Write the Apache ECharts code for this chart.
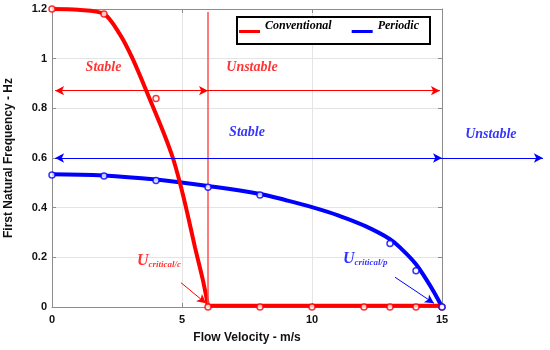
<!DOCTYPE html>
<html><head><meta charset="utf-8">
<script src="https://cdn.jsdelivr.net/npm/echarts@6/dist/echarts.min.js"></script>
<style>html,body{margin:0;padding:0;background:#fff}#c{width:550px;height:350px}</style>
</head><body><div id="c"></div>
<script>
// ---- data ----
const xTickLabels = ['0', '5', '10', '15'];
const yTickLabels = ['0', '0.2', '0.4', '0.6', '0.8', '1', '1.2'];
const seriesNames = ['Conventional', 'Periodic'];

// measured points (open circles)
const convMarkX = [0, 2, 4, 6, 8, 10, 12, 13, 14, 15];
const convMarkY = [1.2, 1.18, 0.84, 0, 0, 0, 0, 0, 0, 0];
const periMarkX = [0, 2, 4, 6, 8, 13, 14, 15];
const periMarkY = [0.532, 0.528, 0.509, 0.482, 0.451, 0.256, 0.146, 0];

// fitted curves (thick lines)
const convFitX = [0, 1, 2, 2.6, 3.1, 3.75, 4.3, 4.65, 4.92, 5.2, 5.5, 5.8, 6, 15];
const convFitY = [1.2, 1.197, 1.18, 1.10, 1.0, 0.84, 0.7, 0.6, 0.5, 0.38, 0.24, 0.11, 0.005, 0.005];
const periFitX = [0, 2, 4, 6, 8, 9, 10, 11, 12, 13, 13.5, 14, 14.4, 14.7, 15];
const periFitY = [0.535, 0.53, 0.513, 0.487, 0.455, 0.430, 0.402, 0.369, 0.328, 0.273, 0.228, 0.172, 0.11, 0.058, 0];

// critical velocities and stability-region arrows (data units)
const criticalConv = 6;
const criticalPeri = 15;
const convArrowY = 0.871;
const periArrowY = 0.6;
const arrowLeftX = 0.12;
const convArrowRightX = 14.92;
const periArrowOuterX = 18.88;
const vlineTopY = 1.188;
const critConvArrow = [[4.96, 0.098], [5.92, 0.015]];
const critPeriArrow = [[13.19, 0.12], [14.69, 0.015]];

// annotation texts
const annText = ['Stable', 'Unstable', 'Stable', 'Unstable', '{u|U}{s|critical/c}', '{u|U}{s|critical/p}'];
const annX = [1.98, 7.69, 7.5, 16.88, 3.27, 11.19];
const annY = [0.965, 0.965, 0.703, 0.697, 0.185, 0.193];
const annKind = ['c', 'c', 'p', 'p', 'c', 'p'];

// ---- build ----
const RED = '#ff0000', BLUE = '#0000ff';
const zip = (xs, ys) => xs.map((x, i) => [x, ys[i]]);
const convCurve = zip(convFitX, convFitY).filter(p => p[0] <= criticalConv);
const convFlat = zip(convFitX, convFitY).filter(p => p[0] >= criticalConv);

const axisGray = '#8c8c8c';
const tickFont = {fontFamily: 'Liberation Sans', fontWeight: 'bold', fontSize: 11, color: '#111'};
const serifBI = {fontFamily: 'Liberation Serif', fontWeight: 'bold', fontStyle: 'italic'};

function axisBase(extra) {
  return Object.assign({
    type: 'value',
    axisLine: {show: true, onZero: false, lineStyle: {color: axisGray, width: 1}},
    axisTick: {show: true, inside: true, length: 4, lineStyle: {color: axisGray}},
    splitLine: {show: false},
    axisLabel: {show: false}
  }, extra);
}

const annData = annText.map((t, i) => {
  const col = annKind[i] === 'c' ? RED : BLUE;
  const rich = t.indexOf('{u|') === 0;
  return {
    value: [annX[i], annY[i]],
    label: rich ? {
      show: true, position: 'right', distance: 0, formatter: t,
      rich: {
        u: Object.assign({fontSize: 16, color: col}, serifBI),
        s: Object.assign({fontSize: 9, color: col, verticalAlign: 'bottom'}, serifBI)
      }
    } : {
      show: true, position: 'inside', formatter: t,
      color: col, fontSize: 14, ...serifBI
    }
  };
});

function arrow(p0, p1, col, s0, s1, w) {
  return [
    {coord: p0, symbol: s0, lineStyle: {color: col, width: w || 1, type: 'solid'}},
    {coord: p1, symbol: s1}
  ];
}

const chart = echarts.init(document.getElementById('c'), null, {renderer: 'canvas'});
chart.setOption({
  animation: false,
  backgroundColor: '#fff',
  grid: [
    {left: 52, right: 108, top: 9, bottom: 43, outerBoundsMode: 'none', containLabel: false},
    {left: 52, width: 507, top: 9, bottom: 43, outerBoundsMode: 'none', containLabel: false}
  ],
  legend: {
    data: seriesNames,
    left: 237, top: 17,
    orient: 'horizontal',
    itemWidth: 21, itemHeight: 14, itemGap: 20,
    icon: 'path://M0,0 M0,11 L21,11 L21,14 L0,14 Z',
    padding: [2, 11, 11, 2],
    borderColor: '#000', borderWidth: 2,
    backgroundColor: '#fff',
    textStyle: Object.assign({fontSize: 12, color: '#000'}, serifBI),
    selectedMode: false
  },
  xAxis: [
    axisBase({
      gridIndex: 0, position: 'bottom', min: 0, max: 15, interval: 5,
      name: 'Flow Velocity - m/s', nameLocation: 'middle', nameGap: 25,
      nameTextStyle: {fontFamily: 'Liberation Sans', fontWeight: 'bold', fontSize: 12, color: '#111'},
      axisLabel: Object.assign({show: true, margin: 7,
        formatter: v => xTickLabels[Math.round(v / 5)]}, tickFont),
      splitLine: {show: true, lineStyle: {color: '#e4e4e4', width: 1}}
    }),
    axisBase({gridIndex: 0, position: 'top', min: 0, max: 15, interval: 5}),
    {type: 'value', gridIndex: 1, min: 0, max: 19.5, show: false}
  ],
  yAxis: [
    axisBase({
      gridIndex: 0, position: 'left', min: 0, max: 1.2, interval: 0.2,
      name: 'First Natural Frequency - Hz', nameLocation: 'middle', nameGap: 37,
      nameTextStyle: {fontFamily: 'Liberation Sans', fontWeight: 'bold', fontSize: 12, color: '#111'},
      axisLabel: Object.assign({show: true, margin: 5,
        formatter: v => yTickLabels[Math.round(v / 0.2)]}, tickFont),
      splitLine: {show: true, lineStyle: {color: '#e4e4e4', width: 1}}
    }),
    axisBase({gridIndex: 0, position: 'right', min: 0, max: 1.2, interval: 0.2}),
    {type: 'value', gridIndex: 1, min: 0, max: 1.2, show: false}
  ],
  series: [
    {
      name: 'Periodic', type: 'line', xAxisIndex: 0, yAxisIndex: 0,
      data: zip(periFitX, periFitY), smooth: 0.4, symbol: 'none',
      color: BLUE, itemStyle: {color: BLUE}, lineStyle: {color: BLUE, width: 4}, z: 3
    },
    {
      name: 'Conventional', type: 'line', xAxisIndex: 0, yAxisIndex: 0,
      data: convCurve, smooth: 0.3, symbol: 'none',
      color: RED, itemStyle: {color: RED}, lineStyle: {color: RED, width: 4}, z: 4
    },
    {
      name: 'Conventional', type: 'line', xAxisIndex: 0, yAxisIndex: 0,
      data: convFlat, symbol: 'none',
      color: RED, itemStyle: {color: RED}, lineStyle: {color: RED, width: 4}, z: 4
    },
    {
      name: 'Conventional points', type: 'scatter', xAxisIndex: 0, yAxisIndex: 0,
      data: zip(convMarkX, convMarkY), symbol: 'circle', symbolSize: 6,
      itemStyle: {color: '#fff', borderColor: RED, borderWidth: 1.5}, z: 5
    },
    {
      name: 'Periodic points', type: 'scatter', xAxisIndex: 0, yAxisIndex: 0,
      data: zip(periMarkX, periMarkY), symbol: 'circle', symbolSize: 6,
      itemStyle: {color: '#fff', borderColor: BLUE, borderWidth: 1.5}, z: 6
    },
    {
      name: 'annotations', type: 'scatter', xAxisIndex: 2, yAxisIndex: 2,
      data: annData, symbolSize: 0, silent: true, z: 7,
      markLine: {
        silent: true, symbolSize: [7, 9], label: {show: false},
        emphasis: {disabled: true},
        data: [
          arrow([criticalConv, 0], [criticalConv, vlineTopY], '#ff5050', 'none', 'none', 1.5),
          arrow([arrowLeftX, convArrowY], [criticalConv, convArrowY], RED, 'arrow', 'arrow'),
          arrow([criticalConv, convArrowY], [convArrowRightX, convArrowY], RED, 'none', 'arrow'),
          arrow([arrowLeftX, periArrowY], [criticalPeri, periArrowY], BLUE, 'arrow', 'arrow'),
          arrow([criticalPeri, periArrowY], [periArrowOuterX, periArrowY], BLUE, 'none', 'arrow'),
          arrow(critConvArrow[0], critConvArrow[1], RED, 'none', 'arrow'),
          arrow(critPeriArrow[0], critPeriArrow[1], BLUE, 'none', 'arrow')
        ]
      }
    }
  ]
});
</script>
</body></html>
